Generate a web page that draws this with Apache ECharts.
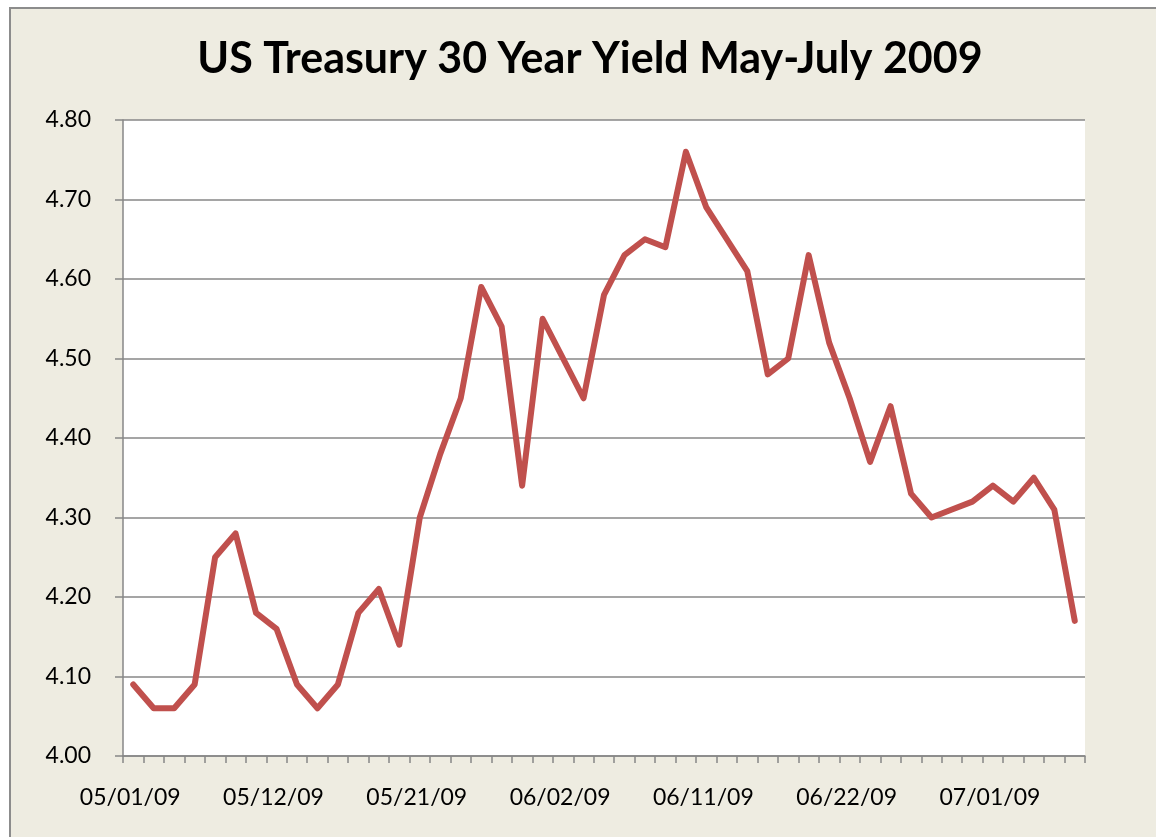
<!DOCTYPE html>
<html>
<head>
<meta charset="utf-8">
<title>US Treasury 30 Year Yield May-July 2009</title>
<script src="https://cdn.jsdelivr.net/npm/echarts@6/dist/echarts.min.js"></script>
<style>
  html, body { margin: 0; padding: 0; background: #fff; overflow: hidden; }
  #frame {
    position: absolute; left: 9px; top: 7px; width: 1200px; height: 900px;
    background: #EEECE1; border-top: 2px solid #8c8c8c; border-left: 2px solid #8c8c8c;
  }
  #chart { position: absolute; left: 0; top: 0; width: 1156px; height: 837px; }
</style>
</head>
<body>
<div id="frame"></div>
<div id="chart"></div>
<script>
// trading days, May 1 - Jul 8 2009
var dates = [
  '05/01/09', '05/04/09', '05/05/09', '05/06/09', '05/07/09', '05/08/09',
  '05/11/09', '05/12/09', '05/13/09', '05/14/09', '05/15/09',
  '05/18/09', '05/19/09', '05/20/09', '05/21/09', '05/22/09',
  '05/26/09', '05/27/09', '05/28/09', '05/29/09',
  '06/01/09', '06/02/09', '06/03/09', '06/04/09', '06/05/09',
  '06/08/09', '06/09/09', '06/10/09', '06/11/09', '06/12/09',
  '06/15/09', '06/16/09', '06/17/09', '06/18/09', '06/19/09',
  '06/22/09', '06/23/09', '06/24/09', '06/25/09', '06/26/09',
  '06/29/09', '06/30/09', '07/01/09', '07/02/09',
  '07/06/09', '07/07/09', '07/08/09'
]

// 30 year yield (%)
var yields = [
  4.09, 4.06, 4.06, 4.09, 4.25, 4.28,
  4.18, 4.16, 4.09, 4.06, 4.09,
  4.18, 4.21, 4.14, 4.30, 4.38,
  4.45, 4.59, 4.54, 4.34,
  4.55, 4.50, 4.45, 4.58, 4.63,
  4.65, 4.64, 4.76, 4.69, 4.65,
  4.61, 4.48, 4.50, 4.63, 4.52,
  4.45, 4.37, 4.44, 4.33, 4.30,
  4.31, 4.32, 4.34, 4.32,
  4.35, 4.31, 4.17
]

var yMin = 4.0
var yMax = 4.8
var yStep = 0.1

var chart = echarts.init(document.getElementById('chart'))

var gray = '#878787'
var font = 'Lato, "Open Sans", sans-serif'

var option = {
  backgroundColor: 'transparent',
  animation: false,
  title: {
    text: 'US Treasury 30 Year Yield May-July 2009',
    left: 585,
    top: 33,
    textAlign: 'center',
    textStyle: {
      fontFamily: font,
      fontWeight: 'bold',
      fontSize: 43,
      color: '#000'
    }
  },
  grid: {
    left: 123,
    top: 120,
    right: 71,
    bottom: 81,
    show: true,
    backgroundColor: '#fff',
    borderWidth: 0
  },
  xAxis: {
    type: 'category',
    boundaryGap: true,
    data: dates,
    axisLine: { lineStyle: { color: gray, width: 1.5 } },
    axisTick: { show: true, interval: 0, length: 7, lineStyle: { color: gray, width: 1.5 } },
    axisLabel: {
      interval: 6,
      margin: 30,
      fontFamily: font,
      fontSize: 23,
      color: '#000',
      padding: [0, 6, 0, 0]
    },
    splitLine: { show: false }
  },
  yAxis: {
    type: 'value',
    min: yMin,
    max: yMax,
    interval: yStep,
    axisLine: { show: true, lineStyle: { color: gray, width: 1.5 } },
    axisTick: { show: true, length: 8, lineStyle: { color: gray, width: 1.5 } },
    axisLabel: {
      margin: 32,
      fontFamily: font,
      fontSize: 23,
      color: '#000',
      formatter: function (v) { return v.toFixed(2) }
    },
    splitLine: { lineStyle: { color: gray, width: 1.5 } }
  },
  series: [
    {
      name: '30 Year Yield',
      type: 'line',
      data: yields,
      symbol: 'none',
      lineStyle: { color: '#C0504D', width: 6, cap: 'round', join: 'round' }
    }
  ]
}

chart.setOption(option)
</script>
</body>
</html>
